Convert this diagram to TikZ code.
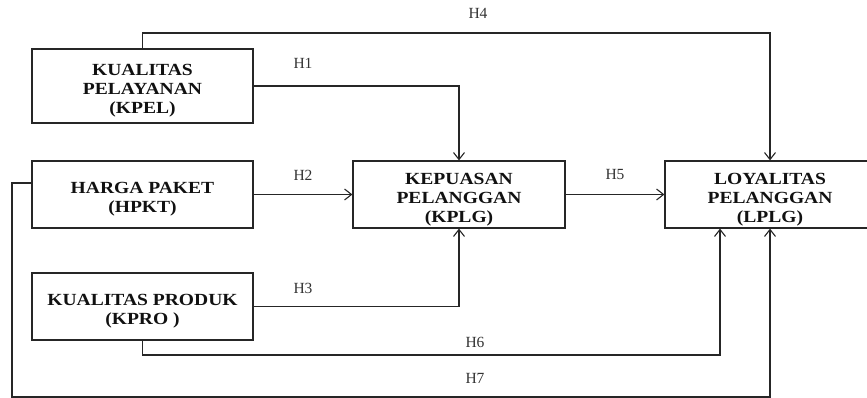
\documentclass[tikz,border=0pt]{standalone}
\usepackage{fontspec}
\setmainfont{Liberation Serif}
\newfontfamily\boxfont[FakeStretch=1.15]{Liberation Serif}
\usepackage{tikz}
\usepackage{xcolor}
\usetikzlibrary{positioning, arrows.meta, calc}
\definecolor{cLine}{HTML}{262626}
\definecolor{cText}{HTML}{111111}
\definecolor{cLabel}{HTML}{333333}
\newcommand{\lift}{\rule{0pt}{21pt}}

\begin{document}
\begin{tikzpicture}[x=1pt, y=-1pt,
    varbox/.style={draw=cLine, line width=1.2pt, align=center, text=cText,
      minimum width=221pt, minimum height=67pt, inner sep=0pt,
      font=\boxfont\bfseries\fontsize{17}{19}\selectfont},
    link/.style={draw=cLine, line width=1.1pt, -{Straight Barb[length=7pt, width=11pt, line width=1.1pt]}},
    hlab/.style={text=cLabel, font=\fontsize{15.5}{17}\selectfont}]
  \useasboundingbox (0,0) rectangle (867,398);
  % variables
  \node[varbox, minimum height=74pt] (kpel) at (142.5, 86) {\lift KUALITAS\\PELAYANAN\\(KPEL)};
  \node[varbox] (hpkt) at (142.5, 194.5) {\lift HARGA PAKET\\(HPKT)};
  \node[varbox] (kpro) at (142.5, 306.5) {\lift KUALITAS PRODUK\\(KPRO )};
  \node[varbox, minimum width=212pt] (kplg) at (459, 194.5) {\lift KEPUASAN\\PELANGGAN\\(KPLG)};
  \node[varbox, minimum width=210pt] (lplg) at (770, 194.5) {\lift LOYALITAS\\PELANGGAN\\(LPLG)};
  % routing levels
  \coordinate (top) at (0, 33);
  \coordinate (low) at (0, 355);
  \coordinate (rim) at (12, 397);
  % paths
  \draw[link] (kpel.east) -| (kplg.north);
  \draw[link] (hpkt.east) -- (kplg.west);
  \draw[link] (kpro.east) -| (kplg.south);
  \draw[link] (kpel.north) -- (kpel.north |- top) -| (lplg.north);
  \draw[link] (kplg.east) -- (lplg.west);
  \draw[link] (kpro.south) -- (kpro.south |- low) -| ([xshift=-50pt]lplg.south);
  \draw[link] ([yshift=11.5pt]hpkt.west) -| (rim) -| (lplg.south);
  % labels
  \node[hlab] (h1) at (303, 63) {H1};
  \node[hlab] (h2) at (303, 175) {H2};
  \node[hlab] (h3) at (303, 288) {H3};
  \node[hlab] (h4) at (478, 13) {H4};
  \node[hlab] (h5) at (615, 175) {H5};
  \node[hlab] (h6) at (475, 342) {H6};
  \node[hlab] (h7) at (475, 378) {H7};
\end{tikzpicture}
\end{document}
